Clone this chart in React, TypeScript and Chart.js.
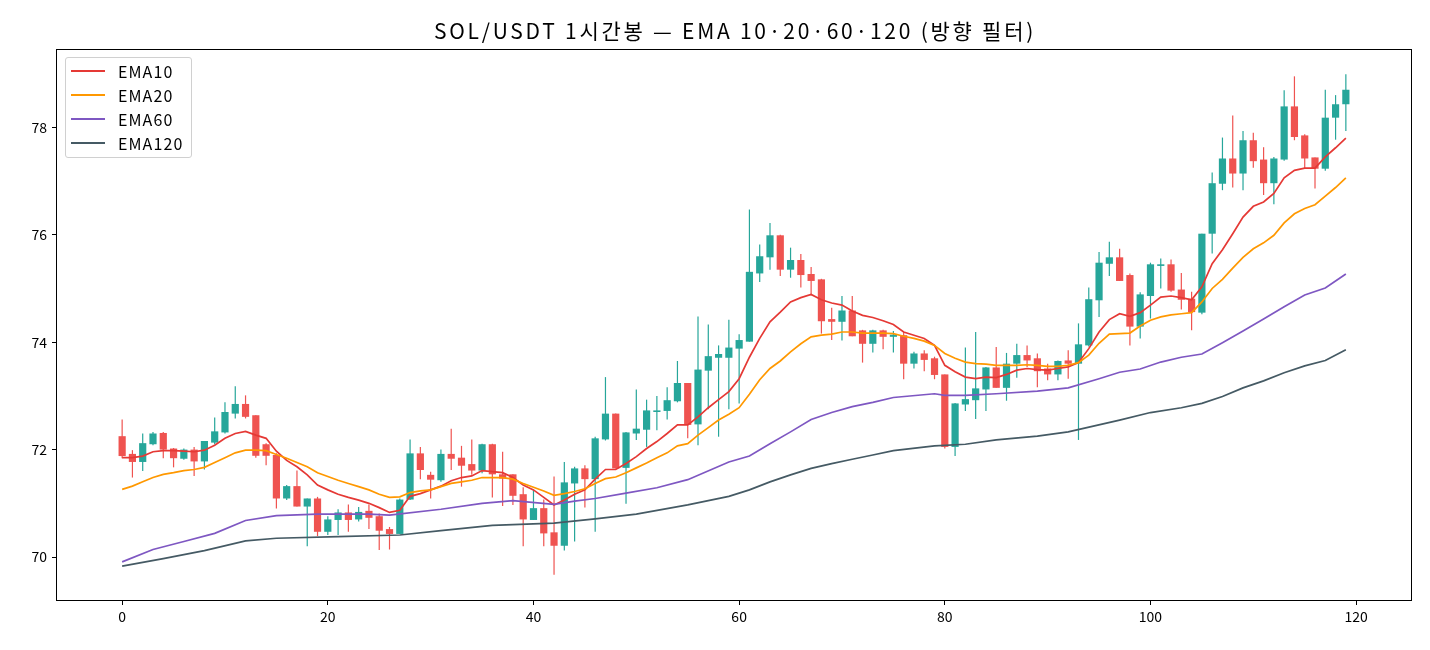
import React, { useEffect, useRef } from "react";
import { Chart, registerables } from "chart.js";
Chart.register(...registerables);

const TITLE = "SOL/USDT 1시간봉 — EMA 10·20·60·120 (방향 필터)";
const FONT = '"Noto Sans CJK KR", "Noto Sans", sans-serif';
const UP = "#26a69a";
const DOWN = "#ef5350";

const opens = [72.25,71.92,71.77,72.10,72.31,72.02,71.83,72.00,71.78,72.13, 72.32,72.67,72.85,72.64,72.10,71.90,71.09,71.32,70.94,71.09, 70.47,70.69,70.83,70.70,70.86,70.76,70.52,70.43,71.07,71.93, 71.53,71.43,71.92,71.85,71.73,71.61,72.10,71.54,71.54,71.17, 70.69,70.91,70.46,70.21,71.37,71.65,71.45,72.19,72.67,71.66, 72.30,72.37,72.70,72.72,72.90,73.24,72.47,73.47,73.71,73.71, 73.88,74.01,75.28,75.58,75.99,75.35,75.53,75.27,75.17,74.43, 74.38,74.59,74.22,73.97,74.22,74.10,74.13,73.60,73.79,73.70, 73.40,72.05,72.84,72.92,73.12,73.53,73.15,73.60,73.76,73.70, 73.51,73.40,73.66,73.60,73.94,74.78,75.46,75.58,75.25,74.29, 74.86,75.42,75.45,74.98,74.81,74.55,76.02,76.95,77.42,77.14, 77.76,77.40,76.96,77.40,78.39,77.85,77.44,77.23,78.18,78.43];
const highs = [72.56,71.99,72.30,72.33,72.33,72.03,72.02,72.05,72.16,72.60, 72.88,73.18,73.01,72.64,72.12,71.93,71.34,71.61,71.09,71.12, 70.76,70.89,70.98,70.93,70.98,70.81,70.56,71.09,72.19,72.05, 71.59,72.00,72.39,72.07,72.19,72.11,72.11,71.96,71.54,71.30, 71.25,71.07,71.50,71.77,71.68,71.71,72.24,73.35,72.67,72.33, 73.12,72.93,73.00,73.16,73.65,73.24,74.48,74.33,73.94,74.42, 74.15,76.47,75.82,76.22,76.00,75.76,75.64,75.40,75.18,74.64, 74.86,74.86,74.23,74.23,74.23,74.21,74.19,73.82,73.85,73.73, 73.40,72.87,73.90,74.19,73.54,73.91,73.80,73.97,73.94,73.79, 73.60,73.66,73.85,74.35,75.02,75.68,75.87,75.74,75.28,74.93, 75.48,75.56,75.54,75.29,74.94,76.02,77.16,77.81,78.22,77.93, 77.90,77.63,77.45,78.69,78.95,77.87,77.44,78.70,78.60,78.99];
const lows = [71.84,71.48,71.60,72.08,71.84,71.67,71.81,71.51,71.63,72.10, 72.30,72.58,72.58,71.85,71.71,70.905,71.06,70.94,70.20,70.39, 70.41,70.41,70.47,70.66,70.52,70.13,70.14,70.43,71.06,71.45, 71.09,71.40,71.62,71.31,71.53,71.56,71.11,70.95,70.97,70.20, 70.69,70.20,69.67,70.12,70.29,70.92,70.47,72.17,71.65,70.99, 72.18,72.05,72.36,72.56,72.88,72.21,72.08,72.75,72.24,72.75, 72.86,74.01,75.12,75.35,75.23,75.20,75.02,74.87,74.16,74.04, 74.03,74.11,73.62,73.81,73.87,73.81,73.31,73.51,73.46,73.31, 72.02,71.88,72.72,72.57,72.72,73.15,72.91,73.34,73.54,73.16, 73.29,73.29,73.32,72.18,73.92,74.47,75.23,75.14,73.94,74.07, 74.44,75.00,74.94,74.61,74.22,74.52,75.65,76.83,76.88,76.83, 77.25,76.74,76.57,77.38,77.76,77.23,76.86,77.19,77.77,77.93];
const closes = [71.88,71.77,72.12,72.30,72.00,71.84,72.00,71.78,72.16,72.34, 72.70,72.85,72.61,71.885,71.885,71.09,71.32,70.94,71.09,70.47, 70.70,70.83,70.69,70.84,70.73,70.49,70.43,71.07,71.93,71.62, 71.44,71.92,71.83,71.70,71.61,72.10,71.54,71.46,71.14,70.70, 70.91,70.44,70.21,71.39,71.65,71.45,72.21,72.67,71.65,72.32, 72.39,72.73,72.73,72.92,73.24,72.46,73.49,73.74,73.78,73.90, 74.04,75.31,75.60,75.99,75.35,75.53,75.25,75.14,74.39,74.38, 74.59,74.11,73.97,74.22,74.10,74.14,73.60,73.79,73.67,73.39, 72.05,72.86,72.94,73.14,73.53,73.15,73.60,73.76,73.66,73.46, 73.40,73.65,73.60,73.96,74.80,75.48,75.58,75.14,74.29,74.89, 75.45,75.45,74.96,74.79,74.56,76.02,76.96,77.42,77.14,77.76, 77.37,76.96,77.42,78.39,77.82,77.42,77.23,78.18,78.43,78.70];

const ema10 = [71.85,71.85,71.88,71.96,71.98,71.98,71.97,71.96,71.99,72.08, 72.21,72.30,72.34,72.27,72.21,71.97,71.80,71.68,71.53,71.34, 71.25,71.17,71.11,71.06,71.00,70.92,70.83,70.87,71.13,71.18, 71.25,71.32,71.42,71.48,71.51,71.61,71.59,71.57,71.48,71.34, 71.25,71.11,70.97,71.06,71.17,71.25,71.45,71.63,71.63,71.74, 71.87,72.02,72.15,72.30,72.46,72.46,72.61,72.78,72.93,73.08, 73.32,73.72,74.07,74.38,74.56,74.75,74.83,74.89,74.79,74.73, 74.69,74.58,74.50,74.46,74.40,74.33,74.19,74.13,74.07,73.94, 73.57,73.45,73.35,73.32,73.35,73.34,73.40,73.48,73.51,73.49, 73.48,73.51,73.54,73.62,73.88,74.19,74.42,74.53,74.48,74.55, 74.69,74.84,74.86,74.83,74.79,75.03,75.46,75.72,76.02,76.33, 76.53,76.61,76.77,77.06,77.20,77.24,77.24,77.45,77.62,77.80];
const ema20 = [71.26,71.32,71.40,71.48,71.54,71.57,71.61,71.63,71.67,71.76, 71.85,71.94,71.99,71.99,71.98,71.91,71.84,71.76,71.68,71.57, 71.50,71.43,71.37,71.31,71.25,71.17,71.11,71.12,71.20,71.23, 71.25,71.31,71.37,71.40,71.43,71.48,71.48,71.48,71.45,71.37, 71.30,71.23,71.15,71.18,71.22,71.27,71.37,71.46,71.49,71.57, 71.66,71.75,71.85,71.94,72.07,72.11,72.27,72.41,72.55,72.66, 72.78,73.03,73.30,73.51,73.65,73.82,73.97,74.10,74.13,74.15, 74.19,74.19,74.17,74.17,74.17,74.16,74.11,74.07,74.02,73.94, 73.79,73.70,73.63,73.60,73.59,73.57,73.57,73.57,73.58,73.57, 73.55,73.55,73.57,73.62,73.76,73.98,74.15,74.16,74.17,74.30, 74.41,74.47,74.51,74.53,74.55,74.75,75.00,75.17,75.38,75.58, 75.74,75.85,75.99,76.22,76.39,76.49,76.56,76.72,76.88,77.06];
const ema60Idx = [0,3,6,9,12,15,19,24,26,31,35,38,42,44,46,49,52,55,59,61,63,65,67,69,71,73,75,79,80,82,85,89,92,95,97,99,101,103,105,107,109,111,113,115,117,119];
const ema60Val = [69.91,70.14,70.29,70.44,70.68,70.77,70.80,70.80,70.78,70.89,71.00,71.05,70.98,71.04,71.09,71.19,71.29,71.44,71.77,71.88,72.11,72.33,72.56,72.69,72.80,72.88,72.97,73.04,73.01,73.01,73.04,73.09,73.15,73.32,73.44,73.50,73.63,73.72,73.78,73.99,74.21,74.43,74.66,74.88,75.01,75.27];
const ema120Idx = [0,4,8,12,15,21,27,31,36,42,46,50,55,59,61,63,65,67,69,71,73,75,79,82,85,89,92,97,100,103,105,107,109,111,113,115,117,119];
const ema120Val = [69.83,69.97,70.12,70.30,70.35,70.38,70.41,70.49,70.59,70.63,70.71,70.80,70.97,71.13,71.25,71.40,71.53,71.65,71.74,71.82,71.90,71.98,72.07,72.10,72.18,72.25,72.33,72.55,72.69,72.78,72.86,72.99,73.15,73.28,73.43,73.56,73.66,73.86];

const xTicks = [0, 20, 40, 60, 80, 100, 120];
const yTicks = [70, 72, 74, 76, 78];
const seriesNames = ["EMA10", "EMA20", "EMA60", "EMA120"];
const seriesColors = ["#e53935", "#ff9800", "#7e57c2", "#455a64"];

const titlePlugin = {
  id: "plotTitle",
  afterDraw(chart: any) {
    const { ctx, chartArea } = chart;
    ctx.save();
    ctx.font = `21px ${FONT}`;
    try { (ctx as any).letterSpacing = "2.75px"; } catch (e) {}
    ctx.fillStyle = "#000";
    ctx.textAlign = "center";
    ctx.textBaseline = "middle";
    ctx.fillText(TITLE, (chartArea.left + chartArea.right) / 2 + 1, 31);
    ctx.restore();
  },
};

const framePlugin = {
  id: "frame",
  afterDatasetsDraw(chart: any) {
    const { ctx, chartArea } = chart;
    ctx.save();
    ctx.strokeStyle = "#000";
    ctx.lineWidth = 1;
    ctx.strokeRect(chartArea.left - 0.5, chartArea.top - 0.5, chartArea.right - chartArea.left + 1, chartArea.bottom - chartArea.top + 1);
    ctx.restore();
  },
};

export default function App() {
  const ref = useRef<HTMLCanvasElement>(null);
  useEffect(() => {
    const idx = opens.map((_, i) => i);
    const colors = idx.map((i) => (closes[i] >= opens[i] ? UP : DOWN));
    const line = (xs: number[], ys: number[], k: number) => ({
      type: "line" as const,
      label: seriesNames[k],
      data: xs.map((x, j) => ({ x, y: ys[j] })),
      borderColor: seriesColors[k],
      backgroundColor: seriesColors[k],
      borderWidth: 1.7,
      pointRadius: 0,
      tension: 0,
      fill: false,
      order: 3 - k,
    });
    const chart = new Chart(ref.current!, {
      type: "bar",
      data: {
        datasets: [
          line(idx, ema10, 0),
          line(idx, ema20, 1),
          line(ema60Idx, ema60Val, 2),
          line(ema120Idx, ema120Val, 3),
          {
            type: "bar",
            label: "body",
            data: idx.map((i) => ({ x: i, y: [opens[i], closes[i]] })),
            backgroundColor: colors,
            borderWidth: 0,
            grouped: false,
            maxBarThickness: 7.2,
            minBarLength: 1,
            order: 10,
          } as any,
          {
            type: "bar",
            label: "wick",
            data: idx.map((i) => ({ x: i, y: [lows[i], highs[i]] })),
            backgroundColor: colors,
            borderWidth: 0,
            grouped: false,
            maxBarThickness: 1.2,
            order: 11,
          } as any,
        ],
      },
      options: {
        responsive: false,
        devicePixelRatio: 1,
        animation: false,
        layout: { padding: { top: 50, right: 19, left: 0, bottom: 0 } },
        plugins: { legend: { display: false }, tooltip: { enabled: false }, title: { display: false } },
        scales: {
          x: {
            type: "linear",
            min: -6.335,
            max: 125.335,
            offset: false,
            afterFit: (s: any) => { s.height = 50; },
            afterBuildTicks: (s: any) => { s.ticks = xTicks.map((v) => ({ value: v })); },
            grid: { offset: false, drawOnChartArea: false, drawTicks: true, tickLength: 5, color: "#000" },
            border: { display: false },
            ticks: { color: "#000", padding: 3, maxRotation: 0, font: { family: FONT, size: 14 } },
          },
          y: {
            type: "linear",
            min: 69.2,
            max: 79.44,
            afterFit: (s: any) => { s.width = 57; },
            afterBuildTicks: (s: any) => { s.ticks = yTicks.map((v) => ({ value: v })); },
            grid: { offset: false, drawOnChartArea: false, drawTicks: true, tickLength: 5, color: "#000" },
            border: { display: false },
            ticks: { color: "#000", padding: 5, font: { family: FONT, size: 14 } },
          },
        },
      },
      plugins: [titlePlugin, framePlugin],
    } as any);
    return () => chart.destroy();
  }, []);

  return (
    <div style={{ position: "fixed", left: 0, top: 0, width: 1430, height: 650, background: "#fff" }}>
      <canvas ref={ref} width={1430} height={650} style={{ display: "block", width: 1430, height: 650 }} />
      <div
        style={{
          position: "absolute", left: 65, top: 57, width: 127, height: 101,
          border: "1px solid #d0d0d0", borderRadius: 3, background: "rgba(255,255,255,0.8)",
          boxSizing: "border-box", fontFamily: FONT, fontSize: 16, letterSpacing: "1.1px", color: "#000",
        }}
      >
        {seriesNames.map((n, k) => (
          <div key={n} style={{ position: "absolute", left: 0, top: 2 + k * 23.9, height: 22, width: "100%" }}>
            <span style={{ position: "absolute", left: 5, top: 10, width: 34, height: 2, background: seriesColors[k] }} />
            <span style={{ position: "absolute", left: 52, top: 0, lineHeight: "22px" }}>{n}</span>
          </div>
        ))}
      </div>
    </div>
  );
}
